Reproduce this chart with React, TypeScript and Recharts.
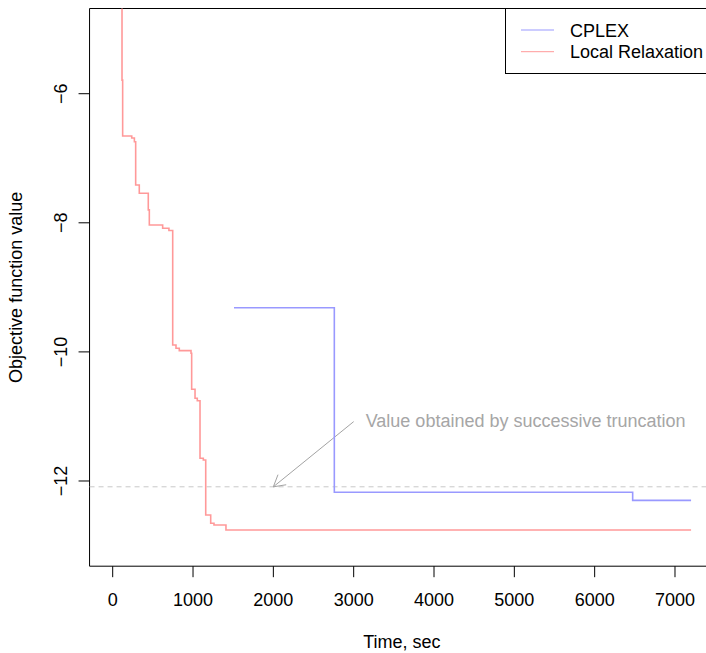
import { Label, Legend, Line, LineChart, ReferenceArea, ReferenceLine, XAxis, YAxis } from 'recharts';

const xTicks = [0, 1000, 2000, 3000, 4000, 5000, 6000, 7000];
const yTicks = [-12, -10, -8, -6];

// Local Relaxation: time of each improvement and the new objective value
const relaxTime = [100, 116, 124, 237, 270, 286, 331, 443, 456, 622, 700, 747, 788, 829, 975, 983, 1025, 1053, 1087, 1128, 1158, 1220, 1261, 1410, 7200];
const relaxValue = [-4.2, -5.79, -6.655, -6.686, -6.744, -7.414, -7.543, -7.8, -8.034, -8.085, -8.12, -9.893, -9.944, -9.981, -10.022, -10.579, -10.719, -10.756, -11.648, -11.674, -12.526, -12.655, -12.682, -12.76, -12.76];

// CPLEX incumbents
const cplexTime = [1510, 2759, 6473, 7200];
const cplexValue = [-9.315, -12.175, -12.3, -12.3];

const truncationValue = -12.09;
const arrowFrom = { t: 3000, v: -11.08 };
const arrowTo = { t: 2000, v: -12.09 };
const noteText = 'Value obtained by successive truncation';

const xDomain = [-288, 7488];
const yDomain = [-13.32, -4.68];

const FONT = '"Liberation Sans", Arial, Helvetica, sans-serif';
const RED = '#ff9999';
const BLUE = '#9999ff';

const relaxData = relaxTime.map((t, i) => ({ t, v: relaxValue[i] }));
const cplexData = cplexTime.map((t, i) => ({ t, v: cplexValue[i] }));

const fmt = (v: number) => String(v).replace('-', '\u2212');

function XTick({ x, y, payload }: any) {
  return (
    <text x={x} y={y + 29} textAnchor="middle" fontSize={18} fontFamily={FONT} fill="#000">
      {fmt(payload.value)}
    </text>
  );
}

function YTick({ x, y, payload }: any) {
  const bx = x - 11.5;
  return (
    <text x={bx} y={y} transform={`rotate(-90 ${bx} ${y})`} textAnchor="middle" fontSize={18} fontFamily={FONT} fill="#000">
      {fmt(payload.value)}
    </text>
  );
}

function XTitle({ viewBox }: any) {
  return (
    <text x={viewBox.x + viewBox.width / 2} y={viewBox.y + 82} textAnchor="middle" fontSize={18} fontFamily={FONT} fill="#000">
      Time, sec
    </text>
  );
}

function YTitle({ viewBox }: any) {
  const bx = viewBox.x + 22;
  const cy = viewBox.y + viewBox.height / 2;
  return (
    <text x={bx} y={cy} transform={`rotate(-90 ${bx} ${cy})`} textAnchor="middle" fontSize={18} fontFamily={FONT} fill="#000">
      Objective function value
    </text>
  );
}

function ArrowNote(props: any) {
  const { x1, y1, x2, y2 } = props;
  const ang = Math.atan2(y1 - y2, x1 - x2);
  const len = 13;
  const spread = Math.PI / 6;
  const ax = x2 + len * Math.cos(ang + spread);
  const ay = y2 + len * Math.sin(ang + spread);
  const bx = x2 + len * Math.cos(ang - spread);
  const by = y2 + len * Math.sin(ang - spread);
  return (
    <g>
      <line x1={x1} y1={y1} x2={x2} y2={y2} stroke="#a3a3a3" strokeWidth={1} />
      <polyline points={`${ax},${ay} ${x2},${y2} ${bx},${by}`} fill="none" stroke="#a3a3a3" strokeWidth={1} />
      <text x={x1 + 12} y={y1 + 5} fontSize={18} fontFamily={FONT} fill="#a6a6a6">
        {noteText}
      </text>
    </g>
  );
}

function LegendBox({ payload }: any) {
  return (
    <svg width={215} height={67} style={{ display: 'block' }}>
      <rect x={0.5} y={0.5} width={230} height={65} fill="#fff" stroke="#000" />
      {(payload || []).map((p: any, i: number) => {
        const ly = 22 + i * 21.7;
        return (
          <g key={p.value}>
            <line x1={16} x2={49} y1={ly} y2={ly} stroke={p.color} strokeWidth={1} />
            <text x={65} y={ly + 6.5} fontSize={18} fontFamily={FONT} fill="#000">
              {p.value}
            </text>
          </g>
        );
      })}
    </svg>
  );
}

export default function App() {
  return (
    <div style={{ position: 'absolute', left: 0, top: 0, width: 706, height: 653, overflow: 'hidden', background: '#fff' }}>
      <LineChart width={720} height={653} margin={{ top: 8.5, right: 5.8, bottom: 0, left: 0 }} style={{ fontFamily: FONT }}>
        <XAxis
          dataKey="t"
          type="number"
          domain={xDomain}
          ticks={xTicks}
          interval={0}
          allowDataOverflow
          axisLine={false}
          tickLine={{ stroke: '#000' }}
          tickSize={11}
          tickMargin={0}
          tick={<XTick />}
          height={86.8}
        >
          <Label content={<XTitle />} />
        </XAxis>
        <YAxis
          type="number"
          domain={yDomain}
          ticks={yTicks}
          interval={0}
          allowDataOverflow
          axisLine={false}
          tickLine={{ stroke: '#000' }}
          tickSize={11}
          tickMargin={0}
          tick={<YTick />}
          width={89.56}
        >
          <Label content={<YTitle />} />
        </YAxis>
        <ReferenceLine y={truncationValue} stroke="#c8c8c8" strokeDasharray="5 4" strokeWidth={1} />
        <ReferenceLine
          segment={[
            { x: arrowFrom.t, y: arrowFrom.v },
            { x: arrowTo.t, y: arrowTo.v },
          ]}
          shape={ArrowNote}
        />
        <Line data={cplexData} dataKey="v" name="CPLEX" type="stepAfter" stroke={BLUE} strokeWidth={1.6} dot={false} isAnimationActive={false} />
        <Line data={relaxData} dataKey="v" name="Local Relaxation" type="stepAfter" stroke={RED} strokeWidth={1.6} dot={false} isAnimationActive={false} />
        <ReferenceArea x1={xDomain[0]} x2={xDomain[1]} y1={yDomain[0]} y2={yDomain[1]} fill="none" fillOpacity={0} stroke="#000" strokeWidth={1} />
        <Legend
          layout="vertical"
          align="center"
          verticalAlign="middle"
          content={<LegendBox />}
          wrapperStyle={{ left: 505, top: 8, width: 215, height: 67 }}
        />
      </LineChart>
    </div>
  );
}
